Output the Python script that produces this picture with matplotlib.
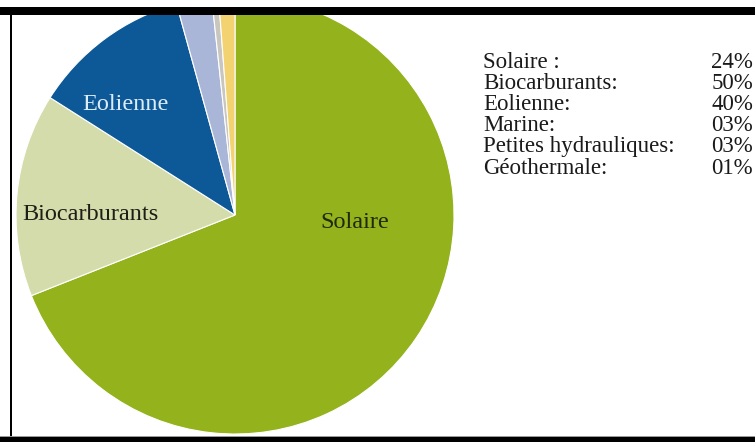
import matplotlib.pyplot as plt
from matplotlib.patches import Rectangle

# pie shares
sources = ["Solaire", "Biocarburants", "Eolienne", "Marine",
           "Petites hydrauliques", "Géothermale"]
shares = [69.0, 15.0, 11.7, 2.6, 0.5, 1.2]
colors = ["#93b21c", "#d5dcab", "#0d5896", "#a9b6d8", "#c9c6bf", "#f3d271"]

# text block on the right
legend_names = ["Solaire :", "Biocarburants:", "Eolienne:", "Marine:",
                "Petites hydrauliques:", "Géothermale:"]
legend_pcts = ["24%", "50%", "40%", "03%", "03%", "01%"]

W, H = 755, 442
fig = plt.figure(figsize=(W / 100, H / 100), dpi=100)
ax = fig.add_axes([0, 0, 1, 1])

serif = ["Liberation Serif", "DejaVu Serif"]
cx, cy, r = 235, H - 215, 219

wedges, _ = ax.pie(shares, colors=colors, startangle=90, counterclock=False,
                   center=(cx, cy), radius=r, frame=True,
                   wedgeprops=dict(edgecolor="white", linewidth=0.8))
ax.set_xlim(0, W)
ax.set_ylim(0, H)
ax.set_aspect("equal")
ax.axis("off")

ax.text(355, H - 222, "Solaire", family=serif, fontsize=17.5, color="#1e2a0a",
        ha="center", va="center")
ax.text(90, H - 214, "Biocarburants", family=serif, fontsize=17.5, color="#1e1e16",
        ha="center", va="center")
ax.text(125, H - 104, "Eolienne", family=serif, fontsize=17.5, color="#dcecf8",
        ha="center", va="center")

y0, dy = H - 62, 21.2
for i, (name, pct) in enumerate(zip(legend_names, legend_pcts)):
    y = y0 - i * dy
    ax.text(483, y, name, family=serif, fontsize=16.5, color="#1a1a1a",
            ha="left", va="center")
    ax.text(753, y, pct, family=serif, fontsize=16.5, color="#1a1a1a",
            ha="right", va="center")

# frame of the cropped chart
ax.add_patch(Rectangle((0, H - 7), W, 7, facecolor="white", zorder=5))
ax.add_patch(Rectangle((0, H - 15), W, 8, facecolor="black", zorder=6))
ax.add_patch(Rectangle((0, 0), 10, H, facecolor="white", zorder=5))
ax.add_patch(Rectangle((10, 0), 2, H - 7, facecolor="black", zorder=6))
ax.add_patch(Rectangle((0, 0), W, 5, facecolor="black", zorder=6))
ax.add_patch(Rectangle((0, 5), W, 1, facecolor="#9a9a9a", zorder=6))

fig.savefig("out.png", dpi=100)
